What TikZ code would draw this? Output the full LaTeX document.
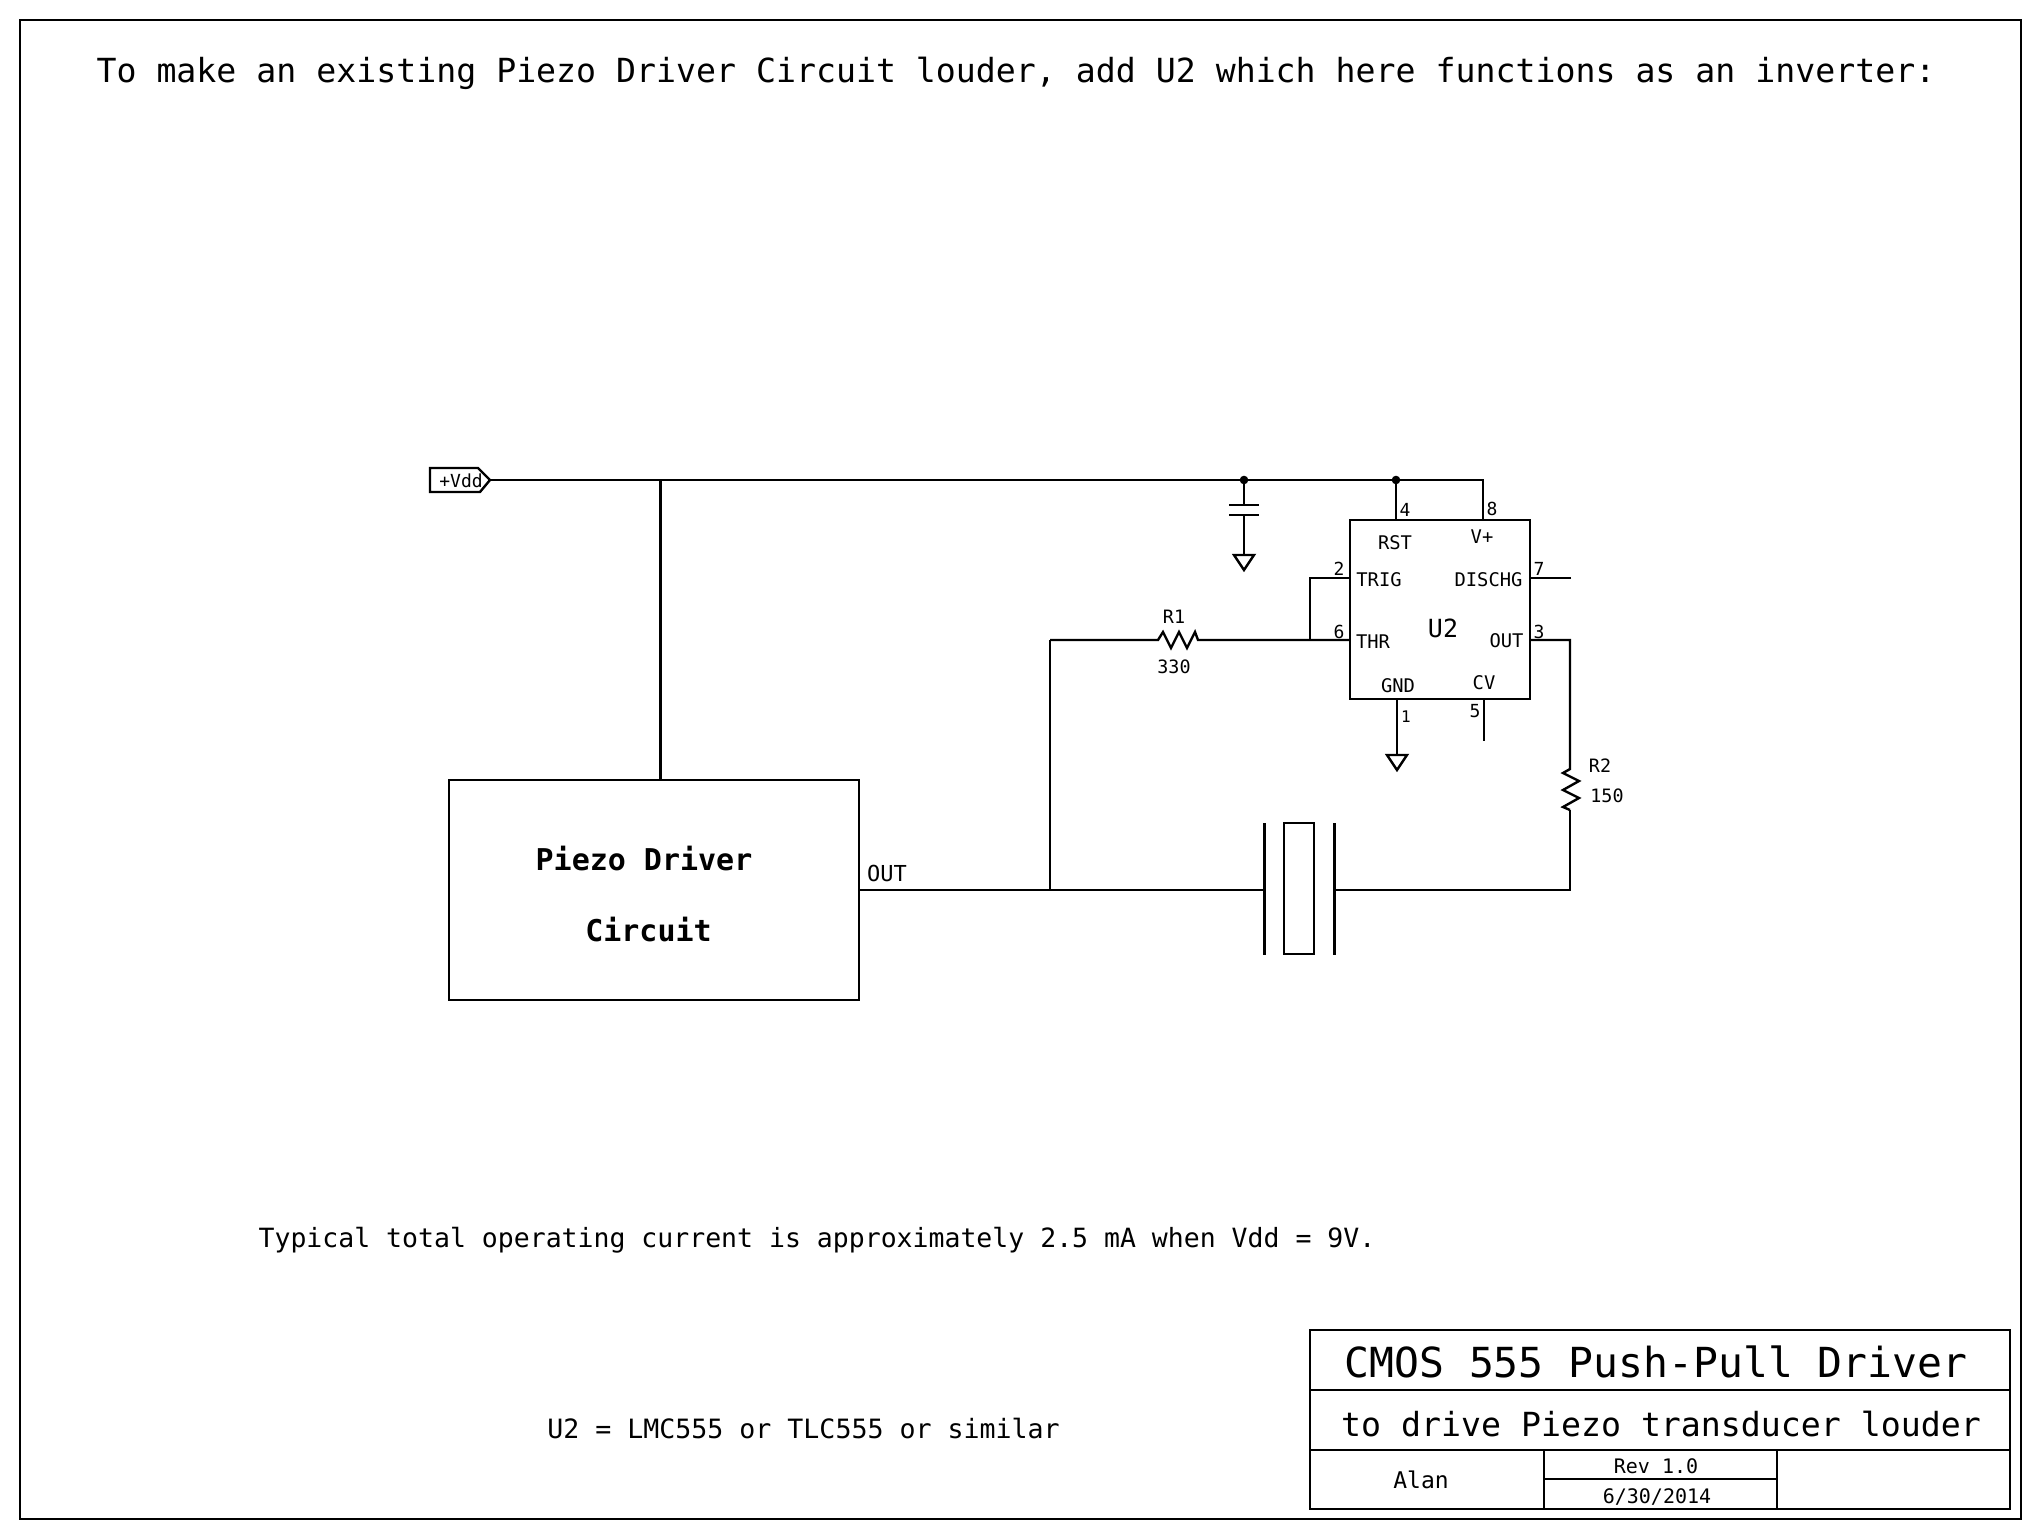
\documentclass[tikz,border=0pt]{standalone}
\usepackage{fontspec}
\setmainfont{DejaVu Sans Mono}
\usetikzlibrary{calc}
\newcommand{\fsz}[1]{\fontsize{#1}{#1}\selectfont}
\begin{document}
\begin{tikzpicture}[x=0.5pt,y=-0.5pt,line width=1.2pt,line join=miter]
	\tikzset{bloque/.style={draw=black,rectangle,inner sep=0,outer sep=0},
		texto/.style={inner sep=0,outer sep=0,text=black},
		pinnum/.style={texto,font=\fsz{9}},
		pinname/.style={texto,font=\fsz{9.4}},
		nodo/.style={circle,fill=black,draw=black,inner sep=0,minimum size=3pt},
		plate/.style={line width=1.7pt},
		gnd/.pic={\draw (-10,0) -- (10,0) -- (0,15) -- cycle;}}
	\fill[white] (0,0) rectangle (2040,1540);
	% sheet and title block
	\node[bloque,minimum width=1000.5pt,minimum height=749.5pt] at (1020.5,769.5) (sheet){};
	\node[bloque,minimum width=350pt,minimum height=89.5pt] at (1660,1419.5) (block){};
	\coordinate (rowA) at (1310,1390);
	\coordinate (rowB) at (1310,1450);
	\coordinate (colA) at (1544,1450);
	\coordinate (colB) at (1777,1450);
	\draw (rowA) -- (rowA -| block.east);
	\draw (rowB) -- (rowB -| block.east);
	\draw (colA) -- (colA |- block.south);
	\draw (colB) -- (colB |- block.south);
	\draw (1544,1479) coordinate (colC) -- (colC -| colB);
	\node[texto,font=\fsz{20.7}] at (1656,1362) (tA){CMOS 555 Push-Pull Driver};
	\node[texto,font=\fsz{16.6}] at (1661,1424.5) (tB){to drive Piezo transducer louder};
	\node[texto,font=\fsz{11.5}] at (1421,1480) (tC){Alan};
	\node[texto,font=\fsz{10}] at (1656,1466) (tD){Rev 1.0};
	\node[texto,font=\fsz{10}] at (1657,1497) (tE){6/30/2014};
	% notes
	\node[texto,font=\fsz{16.6}] at (1016,73.5) (head){To make an existing Piezo Driver Circuit louder, add U2 which here functions as an inverter:};
	\node[texto,font=\fsz{13.25}] at (817,1240) (noteA){Typical total operating current is approximately 2.5 mA when Vdd = 9V.};
	\node[texto,font=\fsz{13.3}] at (803.5,1428.5) (noteB){U2 = LMC555 or TLC555 or similar};
	% 555
	\node[bloque,minimum width=90pt,minimum height=89.75pt] at (1440,609.5) (U2){};
	\node[texto,font=\fsz{12.5}] at (1443,628) (lU2){U2};
	\node[pinname] at (1395,543) (lRST){RST};
	\node[pinname] at (1482,537) (lVp){V+};
	\node[pinname] at (1379,579.5) (lTRIG){TRIG};
	\node[pinname] at (1488.5,580) (lDIS){DISCHG};
	\node[pinname] at (1373,642) (lTHR){THR};
	\node[pinname] at (1506.5,641) (lOUT){OUT};
	\node[pinname] at (1398,686) (lGND){GND};
	\node[pinname] at (1484,683) (lCV){CV};
	\node[pinnum] at (1405,510) (n4){4};
	\node[pinnum] at (1492,509) (n8){8};
	\node[pinnum] at (1339,569) (n2){2};
	\node[pinnum] at (1539,569) (n7){7};
	\node[pinnum] at (1339,632) (n6){6};
	\node[pinnum] at (1539,632) (n3){3};
	\node[pinnum,font=\fsz{8}] at (1406,717) (n1){1};
	\node[pinnum] at (1475,711) (n5){5};
	% supply
	\draw (430,468) coordinate (vddA) -- (478,468) -- (490,480) coordinate (vddB) -- (480,492) -- (430,492) -- cycle;
	\node[texto,font=\fsz{9}] at (461,481) (lVdd){+Vdd};
	\coordinate (railD) at (660.5,480);
	\coordinate (railC) at (1244,480);
	\coordinate (railR) at (1396,480);
	\coordinate (railE) at (1483,480);
	\node[nodo] at (railC) (jC){};
	\node[nodo] at (railR) (jR){};
	\draw (vddB) -- (railE) -- (railE |- U2.north);
	\draw (railR) -- (railR |- U2.north);
	% bypass capacitor
	\coordinate (capA) at (1244,505);
	\coordinate (capB) at (1244,515);
	\coordinate (gndC) at (1244,555);
	\draw (railC) -- (capA);
	\draw (capB) -- (gndC) pic {gnd};
	\draw ($(capA)+(-15,0)$) -- ($(capA)+(15,0)$);
	\draw ($(capB)+(-15,0)$) -- ($(capB)+(15,0)$);
	% pins
	\coordinate (p2) at (1350,578);
	\coordinate (p6) at (1350,640);
	\coordinate (p7) at (1571,578);
	\coordinate (p3) at (1570,640);
	\coordinate (tie) at (1310,640);
	\coordinate (gndU) at (1397,755);
	\coordinate (cvEnd) at (1484,741);
	\draw (p2) -| (tie);
	\draw (p7) -- (p7 -| U2.east);
	\draw (U2.south -| gndU) -- (gndU) pic {gnd};
	\draw (U2.south -| cvEnd) -- (cvEnd);
	% R1
	\coordinate (rA) at (1050,640);
	\coordinate (rB) at (1158,640);
	\coordinate (rC) at (1198,640);
	\draw (rA) -- (rB) -- ++(5,-8) -- ++(8,16) -- ++(8,-16) -- ++(8,16) -- ++(8,-16) -- (rC) -- (p6);
	\node[pinname,font=\fsz{9.2}] at (1174,617) (lR1){R1};
	\node[pinname,font=\fsz{9.2}] at (1174,667) (v330){330};
	% R2
	\coordinate (sA) at (1570,769);
	\coordinate (sB) at (1570,810);
	\draw (p3 -| U2.east) -- (p3) -- (sA) -- ++(-7,4) -- ++(16,8) -- ++(-16,9) -- ++(16,8) -- ++(-16,9) -- (sB);
	\node[pinname,font=\fsz{9.2}] at (1600,766) (lR2){R2};
	\node[pinname,font=\fsz{9.2}] at (1607,796) (v150){150};
	% driver and piezo
	\node[bloque,minimum width=205pt,minimum height=110pt] at (654,890) (driver){};
	\node[texto,font=\bfseries\fsz{15}] at (644,859) (lDrvA){Piezo Driver};
	\node[texto,font=\bfseries\fsz{15}] at (648.5,930) (lDrvB){Circuit};
	\node[pinname,font=\fsz{11}] at (887,873) (lDrvO){OUT};
	\draw (railD) -- (railD |- driver.north);
	\node[bloque,minimum width=15pt,minimum height=65.5pt] at (1299,888.75) (xtal){};
	\coordinate (plA) at (1264.5,890);
	\coordinate (plB) at (1334.5,890);
	\draw[plate] (1264.5,823) -- (1264.5,955);
	\draw[plate] (1334.5,823) -- (1334.5,955);
	\coordinate (wireC) at (1570,890);
	\draw (driver.east) -- (plA);
	\draw (plB) -- (wireC) -- (sB);
	\draw (rA) -- (rA |- plA);
\end{tikzpicture}
\end{document}
